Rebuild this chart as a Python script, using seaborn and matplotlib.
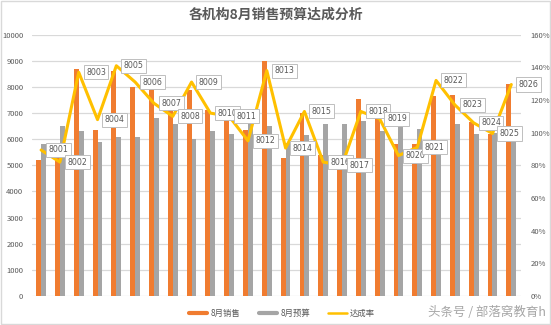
import numpy as np
import pandas as pd
import seaborn as sns
import matplotlib
matplotlib.use("Agg")
import matplotlib.pyplot as plt
from matplotlib.lines import Line2D
from matplotlib.patches import Rectangle
from matplotlib.ticker import FuncFormatter, MultipleLocator

# ---- data ----
orgs = [str(8001 + i) for i in range(26)]
sales = [5200, 5300, 8700, 6350, 8600, 8000, 8000, 7250, 7900, 7100, 6800, 6350, 9000,
         5300, 7000, 5400, 5300, 7550, 6850, 5800, 5800, 7650, 7700, 6650, 6200, 8100]
budget = [5800, 6500, 6300, 5900, 6100, 6100, 6800, 6600, 6000, 6300, 6200, 6700, 6500,
          5850, 6150, 6600, 6600, 6700, 6300, 6700, 6400, 5800, 6600, 6200, 6250, 6250]
rate = [0.894, 0.82, 1.37, 1.08, 1.41, 1.31, 1.18, 1.10, 1.31, 1.12, 1.10, 0.95, 1.38,
        0.906, 1.13, 0.82, 0.80, 1.13, 1.085, 0.86, 0.91, 1.32, 1.17, 1.06, 0.995, 1.295]
series_names = ["8月销售", "8月预算", "达成率"]
title = "各机构8月销售预算达成分析"

C_ORANGE = "#F07C30"
C_GRAY = "#A5A5A5"
C_YELLOW = "#FFC000"
C_TEXT = "#595959"
C_GRID = "#D9D9D9"

sns.set_theme(style="white")
plt.rcParams["font.family"] = ["Noto Sans CJK SC", "DejaVu Sans"]

fig = plt.figure(figsize=(5.51, 3.25), dpi=100)
ax = fig.add_axes([31.7 / 551, 29 / 325, 489 / 551, 261.3 / 325])

df = pd.DataFrame({"机构": orgs * 2,
                   "值": sales + budget,
                   "系列": [series_names[0]] * len(orgs) + [series_names[1]] * len(orgs)})
sns.barplot(data=df, x="机构", y="值", hue="系列", order=orgs,
            palette=[C_ORANGE, C_GRAY], width=0.52, saturation=1,
            errorbar=None, ax=ax, legend=False, linewidth=0, zorder=2)

ax.set_xlim(-0.5, len(orgs) - 0.5)
ax.set_ylim(0, 10000)
ax.yaxis.set_major_locator(MultipleLocator(1000))
ax.grid(axis="y", color=C_GRID, linewidth=0.9, zorder=0)
ax.set_axisbelow(True)
ax.set_xticks([])
ax.set_xlabel("")
ax.set_ylabel("")
for s in ax.spines.values():
    s.set_visible(False)
ax.tick_params(axis="y", labelsize=5.5, colors=C_TEXT, length=0, pad=6)

ax2 = ax.twinx()
sns.lineplot(x=np.arange(len(orgs)), y=rate, ax=ax2, color=C_YELLOW,
             linewidth=2.2, zorder=5)
ax2.set_ylim(0, 1.6)
ax2.yaxis.set_major_locator(MultipleLocator(0.2))
ax2.yaxis.set_major_formatter(FuncFormatter(lambda v, p: f"{v * 100:.0f}%"))
ax2.tick_params(axis="y", labelsize=5.5, colors=C_TEXT, length=0, pad=7)
ax2.grid(False)
for s in ax2.spines.values():
    s.set_visible(False)

for i, (o, r) in enumerate(zip(orgs, rate)):
    ax2.annotate(o, (i, r), xytext=(5.3, 0), textcoords="offset points",
                 ha="left", va="center", fontsize=5.7, color=C_TEXT,
                 family="DejaVu Sans",
                 bbox=dict(boxstyle="square,pad=0.32", fc="white", ec="#BFBFBF", lw=0.7),
                 zorder=6)

fig.text(0.5, 1 - 15 / 325, title, ha="center", va="center", fontsize=10,
         fontweight="bold", color=C_TEXT)

handles = [Line2D([], [], color=C_ORANGE, lw=3),
           Line2D([], [], color=C_GRAY, lw=3),
           Line2D([], [], color=C_YELLOW, lw=1.8)]
fig.legend(handles, series_names, loc="center", bbox_to_anchor=(282 / 551, 1 - 313 / 325),
           ncol=3, frameon=False, fontsize=6, handlelength=2.2, columnspacing=2.2,
           handletextpad=0.4, labelcolor=C_TEXT)

fig.text(428 / 551, 1 - 313 / 325, "头条号 / 部落窝教育h", ha="left", va="center",
         fontsize=9, color="#A6A6A6")

fig.patches.append(Rectangle((0.002, 0.003), 0.996, 0.994, transform=fig.transFigure,
                             fill=False, ec=C_GRID, lw=1))

fig.savefig("out.png", dpi=100)
